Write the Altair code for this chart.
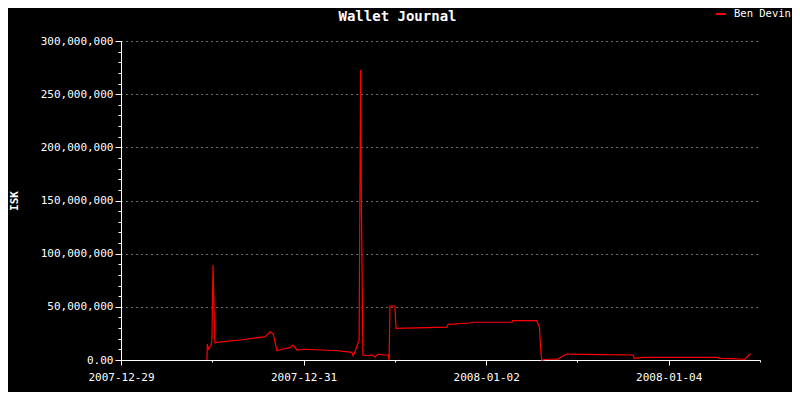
import altair as alt
import pandas as pd

# hours since 2007-12-29 00:00
hours = [22.6, 22.7, 23.0, 23.7, 23.9, 24.2, 24.4, 24.7, 25.0, 31.3, 37.9, 39.2, 40.0,
         41.0, 42.3, 44.4, 45.2, 46.3, 48.4, 57.0, 60.7, 61.0, 61.5, 62.6, 62.8, 63.0,
         63.2, 63.6, 64.7, 66.0, 66.8, 67.6, 68.9, 70.2, 70.5, 70.7, 72.0, 72.3, 85.7,
         86.0, 91.7, 92.3, 102.8, 103.0, 109.3, 110.0, 110.3, 110.6, 112.2, 114.9, 115.8,
         117.2, 125.9, 134.6, 134.9, 137.2, 156.7, 157.5, 160.1, 164.0, 165.5]
# wallet balance, millions of ISK
isk_millions = [0.0, 15.0, 10.3, 14.1, 18.8, 89.3, 56.0, 16.0, 16.6, 18.8, 21.9, 26.6, 24.5,
                8.7, 10.1, 11.6, 14.1, 9.4, 10.1, 8.7, 7.2, 4.0, 7.8, 18.8, 145.8, 272.7,
                145.8, 4.7, 4.0, 4.7, 2.8, 5.6, 4.7, 4.7, 0.0, 50.8, 50.8, 29.8, 31.0,
                33.5, 34.8, 35.5, 35.5, 37.0, 37.0, 31.3, 12.5, 0.0, 0.7, 0.9, 3.1,
                5.6, 5.0, 4.7, 1.6, 2.5, 2.5, 1.6, 1.3, 0.7, 5.9]
series_name = "Ben Devin"

x_tick_hours = [0, 24, 48, 72, 96, 120, 144, 168]
x_tick_labels = ["2007-12-29", "", "2007-12-31", "", "2008-01-02", "", "2008-01-04", ""]
y_ticks = list(range(0, 300_000_001, 10_000_000))

df = pd.DataFrame({
    "hours": hours,
    "isk": [v * 1_000_000 for v in isk_millions],
    "series": [series_name] * len(hours),
})

x_label_expr = " : ".join(
    f"datum.value == {h} ? '{l}'" for h, l in zip(x_tick_hours, x_tick_labels)
) + " : ''"
y_label_expr = ("datum.value == 0 ? '0.00' : (datum.value % 50000000 == 0 ? "
                "format(datum.value, ',d') : '')")

FONT = "DejaVu Sans Mono"

chart = alt.Chart(df).mark_line(strokeWidth=1.2, interpolate="linear").encode(
    x=alt.X("hours:Q",
            scale=alt.Scale(domain=[0, 168], nice=False, zero=False),
            axis=alt.Axis(values=x_tick_hours, labelExpr=x_label_expr, title=None,
                          grid=False, domainColor="white", tickColor="white",
                          tickSize={"condition": {"test": "datum.value % 48 == 0", "value": 5}, "value": 2},
                          labelColor="white", labelFont=FONT, labelFontSize=11,
                          labelPadding=6, labelOverlap=False, labelFlush=False)),
    y=alt.Y("isk:Q",
            scale=alt.Scale(domain=[0, 300_000_000], nice=False),
            axis=alt.Axis(values=y_ticks, labelExpr=y_label_expr, title="ISK",
                          titleFont=FONT, titleFontSize=11, titleFontWeight="bold",
                          titleColor="white", titleX=-107, titleY=159.5, titleAngle=270,
                          titleAlign="center", titleBaseline="middle",
                          domainColor="white", tickColor="white",
                          tickSize={"condition": {"test": "datum.value % 50000000 == 0", "value": 6}, "value": 3},
                          grid=True, gridColor="white", gridDash=[1, 4],
                          gridOpacity={"condition": {"test": "datum.value % 50000000 == 0 && datum.value > 0", "value": 0.85}, "value": 0},
                          labelColor="white", labelFont=FONT, labelFontSize=11,
                          labelPadding=2, labelOverlap=False)),
    color=alt.Color("series:N",
                    scale=alt.Scale(domain=[series_name], range=["#ff0000"]),
                    legend=alt.Legend(title=None, orient="none", legendX=594, legendY=-33,
                                      labelColor="white", labelFont=FONT, labelFontSize=10.5,
                                      symbolType="stroke", symbolSize=100, symbolStrokeWidth=2,
                                      labelOffset=7, padding=0)),
).properties(
    width=639,
    height=319,
    padding={"left": 113, "top": 33, "right": 32, "bottom": 32},
    autosize=alt.AutoSizeParams(type="none"),
    title=alt.TitleParams("Wallet Journal", font=FONT, fontSize=14, fontWeight="bold",
                          color="white", anchor="middle", frame="group", dx=-43,
                          baseline="alphabetic", offset=0, dy=27),
).configure(
    background="#000000",
).configure_view(
    stroke=None,
)

chart.save("out.html", embed_options={"renderer": "svg", "actions": False})
